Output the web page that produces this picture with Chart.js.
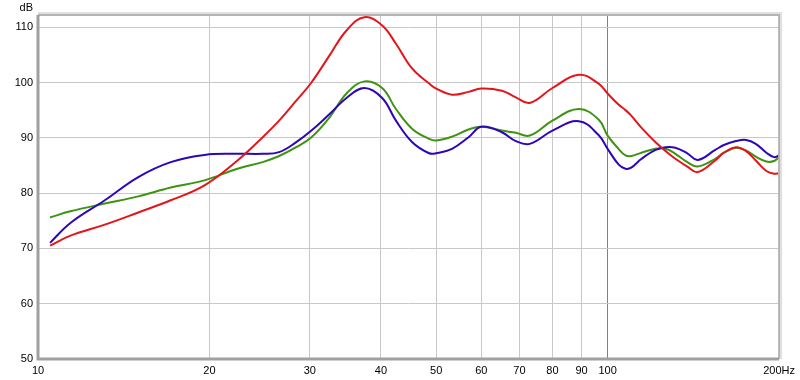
<!DOCTYPE html>
<html>
<head>
<meta charset="utf-8">
<script src="https://cdn.jsdelivr.net/npm/chart.js@4"></script>
<style>
  body { margin: 0; background: #fff; }
  #wrap { width: 800px; height: 380px; }
</style>
</head>
<body>
<div id="wrap"><canvas id="fr"></canvas></div>
<script>
const freqs = [10.5, 11.4, 13.1, 15, 17.1, 19.6, 22.4, 24.8, 26.5, 28.4, 30.2, 32.5, 34.8, 37.4, 40.2, 42.5, 45.4, 48.6, 50, 53.3, 57, 60, 65.2, 69, 73, 80, 89, 96.4, 100, 104.5, 107.5, 110, 114.7, 121.4, 126.4, 131.5, 138, 144, 154.5, 160, 168, 175, 182, 190, 196, 200];

const redDb = [70.5, 72.3, 74.3, 76.5, 78.7, 81.4, 85.9, 90.1, 93.1, 96.7, 100, 104.9, 109.4, 111.8, 110.3, 107, 102.5, 99.8, 98.9, 97.8, 98.3, 98.9, 98.5, 97.3, 96.3, 99.0, 101.4, 99.8, 98, 96, 95, 94, 91.8, 89.2, 87.6, 86.2, 84.8, 83.8, 85.9, 87.3, 88.3, 87.6, 85.9, 84, 83.5, 83.6];

const greenDb = [75.6, 76.7, 78.1, 79.4, 81, 82.3, 84.4, 85.6, 86.7, 88.3, 90.1, 93.7, 98, 100.2, 99, 95.2, 91.6, 89.8, 89.5, 90.2, 91.5, 92, 91.3, 90.9, 90.4, 93.1, 95.2, 93.3, 90.4, 88, 86.8, 86.7, 87.3, 88, 88, 87.1, 85.6, 84.8, 86.2, 87.3, 88.2, 87.7, 86.6, 85.7, 85.8, 86.5];

const blueDb = [71.0, 74.6, 78.7, 82.9, 85.6, 86.9, 87.1, 87.1, 87.4, 89.2, 91.3, 94.3, 97.2, 99, 97.2, 93.1, 89.2, 87.2, 87.2, 88, 90.1, 92, 91.0, 89.4, 88.9, 91.3, 93, 90.5, 88, 85.2, 84.4, 84.6, 86.2, 87.8, 88.3, 88.2, 87.2, 86, 87.8, 88.7, 89.4, 89.6, 88.9, 87.3, 86.5, 86.8];

const xTicks = [10, 20, 30, 40, 50, 60, 70, 80, 90, 100, 200];
const yTicks = [50, 60, 70, 80, 90, 100, 110];

function pts(vals) {
    return freqs.map((f, i) => ({ x: f, y: vals[i] }));
}

const framePlugin = {
    id: 'frame',
    afterDraw(chart) {
        const ctx = chart.ctx;
        const a = chart.chartArea;
        ctx.save();
        // soft shadow along top and right edges
        ctx.strokeStyle = 'rgba(0,0,0,0.12)';
        ctx.lineWidth = 2;
        ctx.beginPath();
        ctx.moveTo(a.left, a.top - 2);
        ctx.lineTo(a.right + 2, a.top - 2);
        ctx.lineTo(a.right + 2, a.bottom);
        ctx.stroke();
        ctx.strokeStyle = '#b4b4b4';
        ctx.lineWidth = 2;
        ctx.beginPath();
        ctx.moveTo(a.left, a.top);
        ctx.lineTo(a.right, a.top);
        ctx.lineTo(a.right, a.bottom);
        ctx.stroke();
        ctx.strokeStyle = '#a0a0a0';
        ctx.lineWidth = 3;
        ctx.beginPath();
        ctx.moveTo(a.left, a.top);
        ctx.lineTo(a.left, a.bottom);
        ctx.lineTo(a.right, a.bottom);
        ctx.stroke();
        ctx.fillStyle = '#000';
        ctx.font = '11px "Liberation Sans", Arial, sans-serif';
        ctx.textAlign = 'right';
        ctx.textBaseline = 'middle';
        ctx.fillText('dB', 33, 8);
        ctx.restore();
    }
};

new Chart(document.getElementById('fr'), {
    type: 'line',
    data: {
        datasets: [
            { label: 'red', data: pts(redDb), borderColor: '#e3151b' },
            { label: 'blue', data: pts(blueDb), borderColor: '#2c06b8' },
            { label: 'green', data: pts(greenDb), borderColor: '#3d9412' }
        ]
    },
    options: {
        responsive: true,
        maintainAspectRatio: false,
        animation: false,
        layout: { padding: { top: 15, right: 19, left: 0, bottom: 0 } },
        elements: {
            point: { radius: 0 },
            line: { borderWidth: 2, tension: 0.4, fill: false }
        },
        plugins: {
            legend: { display: false },
            tooltip: { enabled: false }
        },
        scales: {
            x: {
                type: 'logarithmic',
                min: 10,
                max: 200,
                afterBuildTicks: s => { s.ticks = xTicks.map(v => ({ value: v })); },
                afterFit: s => { s.height = 21; },
                border: { display: false },
                grid: {
                    drawTicks: false,
                    color: c => c.tick && c.tick.value === 100 ? '#808080' : '#c8c8c8',
                    lineWidth: 1
                },
                ticks: {
                    autoSkip: false,
                    maxRotation: 0,
                    padding: 5,
                    color: '#000',
                    font: { family: '"Liberation Sans", Arial, sans-serif', size: 11 },
                    callback: v => v === 200 ? '200Hz' : String(v)
                }
            },
            y: {
                min: 50,
                max: 112.2,
                afterBuildTicks: s => { s.ticks = yTicks.map(v => ({ value: v })); },
                afterFit: s => { s.width = 38; },
                border: { display: false },
                grid: { drawTicks: false, color: '#c8c8c8', lineWidth: 1 },
                ticks: {
                    padding: 5,
                    color: '#000',
                    font: { family: '"Liberation Sans", Arial, sans-serif', size: 11 }
                }
            }
        }
    },
    plugins: [framePlugin]
});
</script>
</body>
</html>
